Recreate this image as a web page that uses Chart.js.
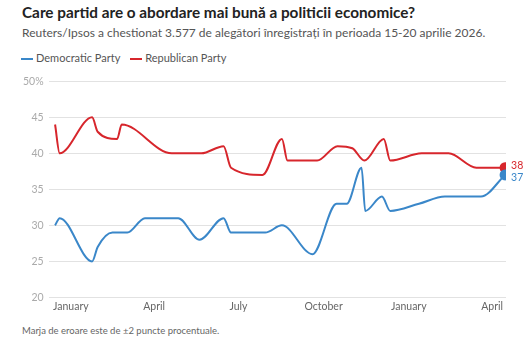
<!DOCTYPE html>
<html>
<head>
<meta charset="utf-8">
<script src="https://cdn.jsdelivr.net/npm/chart.js@4/dist/chart.umd.min.js"></script>
<style>
  body { margin: 0; width: 525px; height: 350px; background: #fff; font-family: Lato, sans-serif; position: relative; overflow: hidden; }
  #title { position: absolute; left: 22px; top: 3px; font-size: 15.3px; font-weight: bold; color: #222; white-space: nowrap; }
  #subtitle { position: absolute; left: 22px; top: 25px; font-size: 12px; color: #555; white-space: nowrap; }
  #legend { position: absolute; left: 21px; top: 51px; font-size: 11px; color: #555; white-space: nowrap; }
  #legend span.sw { display: inline-block; width: 12px; height: 2px; vertical-align: middle; margin-right: 3px; }
  #legend span.item { margin-right: 7px; }
  #wrap { position: absolute; left: 0; top: 70px; width: 525px; height: 246px; }
  #note { position: absolute; left: 22px; top: 325px; font-size: 9.5px; color: #666; }
</style>
</head>
<body>
<div id="title">Care partid are o abordare mai bună a politicii economice?</div>
<div id="subtitle">Reuters/Ipsos a chestionat 3.577 de alegători înregistrați în perioada 15-20 aprilie 2026.</div>
<div id="legend">
  <span class="item"><span class="sw" style="background:#3a87c9"></span>Democratic Party</span>
  <span class="item"><span class="sw" style="background:#d7262c"></span>Republican Party</span>
</div>
<div id="wrap"><canvas id="chart"></canvas></div>
<div id="note">Marja de eroare este de ±2 puncte procentuale.</div>
<script>
const demDates = ["2024-12-15", "2024-12-20", "2025-01-24", "2025-01-30", "2025-02-15", "2025-03-03", "2025-03-22", "2025-04-27",
  "2025-05-20", "2025-06-15", "2025-06-23", "2025-07-30", "2025-08-17", "2025-09-19", "2025-10-15", "2025-10-26",
  "2025-11-11", "2025-11-15", "2025-12-03", "2025-12-12", "2026-01-12", "2026-02-09", "2026-03-20", "2026-04-15"];
const demValues = [30, 31, 25, 27, 29, 29, 31, 31, 28, 31, 29, 29, 30, 26, 33, 33, 38, 32, 34, 32, 33, 34, 34, 37];

const repDates = ["2024-12-15", "2024-12-20", "2025-01-24", "2025-01-30", "2025-02-20", "2025-02-25", "2025-04-20", "2025-05-22",
  "2025-06-15", "2025-06-23", "2025-07-27", "2025-08-17", "2025-08-23", "2025-09-24", "2025-10-16", "2025-11-01",
  "2025-11-14", "2025-12-05", "2025-12-12", "2026-01-15", "2026-02-13", "2026-03-15", "2026-04-15"];
const repValues = [44, 40, 45, 43, 42, 44, 40, 40, 41, 38, 37, 42, 39, 39, 41, 40.7, 39, 42, 39, 40, 40, 38, 38];

const tickDates = ["2025-01-01", "2025-04-01", "2025-07-01", "2025-10-01", "2026-01-01", "2026-04-01"];
const tickLabels = ["January", "April", "July", "October", "January", "April"];

const base = Date.UTC(2025, 0, 1);
function toDay(s) {
  const p = s.split("-").map(Number);
  return (Date.UTC(p[0], p[1] - 1, p[2]) - base) / 86400000;
}
function pts(dates, vals) { return dates.map((d, i) => ({ x: toDay(d), y: vals[i] })); }

const endLabels = {
  id: "endLabels",
  afterDatasetsDraw(chart) {
    const ctx = chart.ctx;
    ctx.save();
    ctx.font = "10.5px Lato, sans-serif";
    ctx.textBaseline = "middle";
    chart.data.datasets.forEach((ds, i) => {
      const meta = chart.getDatasetMeta(i);
      const el = meta.data[meta.data.length - 1];
      ctx.fillStyle = ds.borderColor;
      ctx.fillText(String(ds.data[ds.data.length - 1].y), el.x + 6, el.y + (i === 0 ? 3 : -2));
    });
    ctx.restore();
  }
};

const lastRadius = (c) => c.dataIndex === c.dataset.data.length - 1 ? 4.5 : 0;

new Chart(document.getElementById("chart"), {
  type: "line",
  data: {
    datasets: [
      { label: "Democratic Party", data: pts(demDates, demValues), borderColor: "#3a87c9", backgroundColor: "#3a87c9",
        borderWidth: 2, cubicInterpolationMode: "monotone", pointRadius: lastRadius, pointHoverRadius: 0 },
      { label: "Republican Party", data: pts(repDates, repValues), borderColor: "#d7262c", backgroundColor: "#d7262c",
        borderWidth: 2, cubicInterpolationMode: "monotone", pointRadius: lastRadius, pointHoverRadius: 0 }
    ]
  },
  options: {
    responsive: true,
    maintainAspectRatio: false,
    animation: false,
    layout: { padding: { left: 18, right: 19, top: 4, bottom: 0 } },
    plugins: { legend: { display: false }, tooltip: { enabled: false } },
    scales: {
      x: {
        type: "linear",
        min: -24,
        max: 470,
        grid: { display: false, drawTicks: false },
        border: { display: false },
        afterBuildTicks: (axis) => { axis.ticks = tickDates.map(d => ({ value: toDay(d) })); },
        ticks: {
          autoSkip: false,
          maxRotation: 0,
          padding: 3,
          color: "#666",
          font: { family: "Lato", size: 10.5 },
          callback: (v, i) => tickLabels[i]
        }
      },
      y: {
        min: 20,
        max: 50,
        grid: { color: "#e2e2e2", drawTicks: false },
        border: { display: false },
        ticks: {
          stepSize: 5,
          padding: 5,
          color: "#aaa",
          font: { family: "Lato", size: 10.5 },
          callback: (v) => v === 50 ? "50%" : v
        }
      }
    }
  },
  plugins: [endLabels]
});
</script>
</body>
</html>
